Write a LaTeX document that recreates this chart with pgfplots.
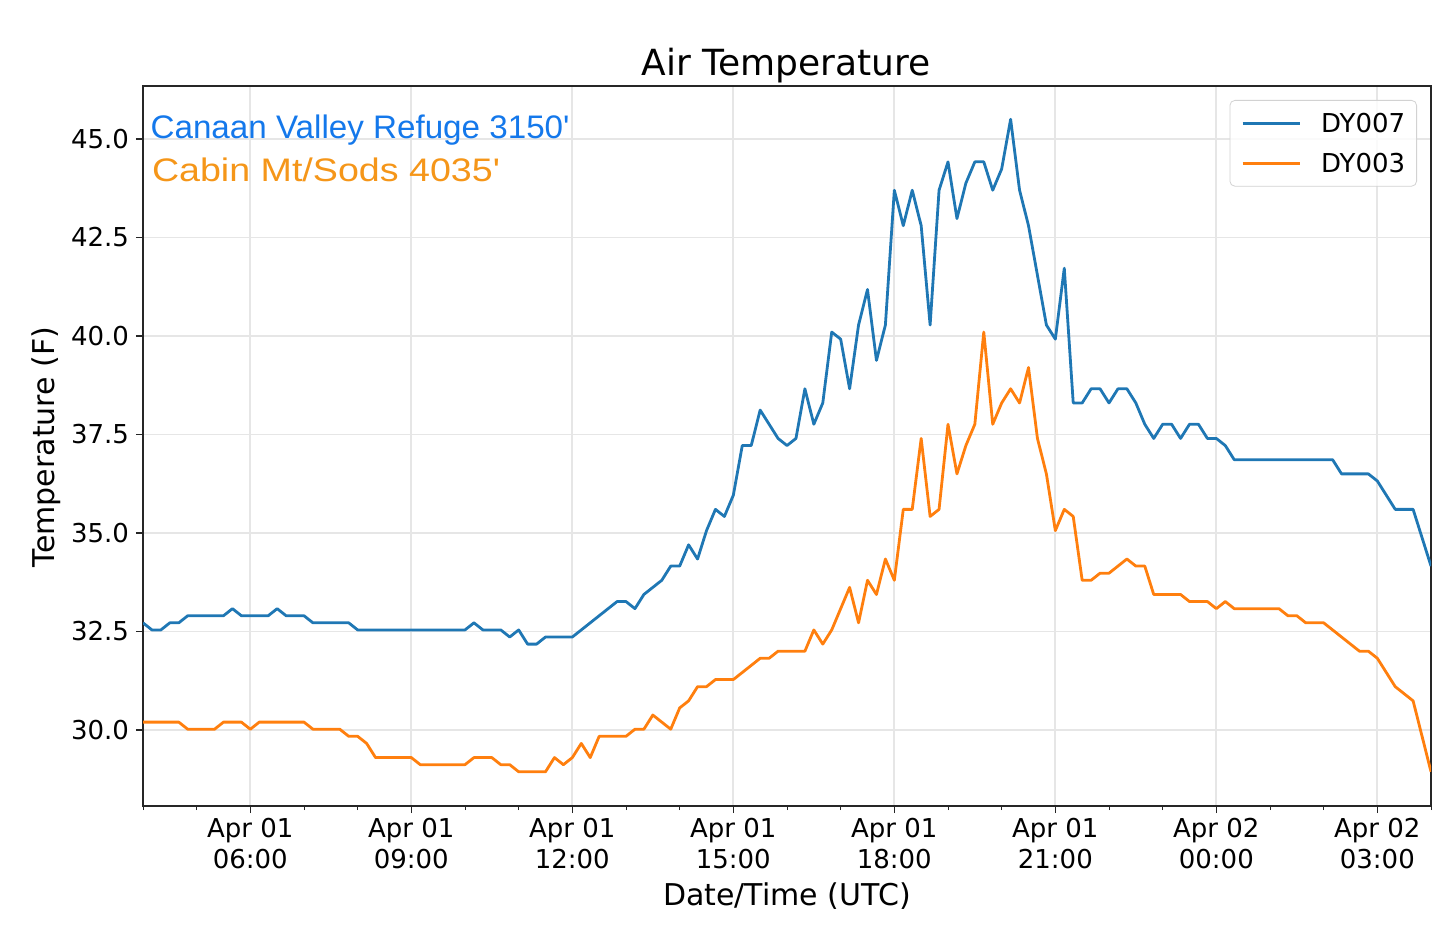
\documentclass[border=0pt]{standalone}
\usepackage{pgfplots}
\pgfplotsset{compat=1.18}
\usepackage{pgfplotstable}
\usepackage{fontspec}
\setmainfont{DejaVu Sans}
\newfontfamily\annfont{Liberation Sans}
\definecolor{tabblue}{HTML}{1F77B4}
\definecolor{taborange}{HTML}{FF7F0E}
\definecolor{annblue}{RGB}{20,120,235}
\definecolor{annorange}{RGB}{245,150,25}
\definecolor{gridgray}{RGB}{230,230,230}
\definecolor{legframe}{RGB}{210,210,210}

% x = number of 10-minute steps after Apr 01 04:00 UTC
\pgfplotstableread{
i T
0 32.72
1 32.54
2 32.54
3 32.72
4 32.72
5 32.90
9 32.90
10 33.08
11 32.90
14 32.90
15 33.08
16 32.90
18 32.90
19 32.72
23 32.72
24 32.54
36 32.54
37 32.72
38 32.54
40 32.54
41 32.36
42 32.54
43 32.18
44 32.18
45 32.36
48 32.36
49 32.54
50 32.72
51 32.90
52 33.08
53 33.26
54 33.26
55 33.08
56 33.44
57 33.62
58 33.80
59 34.16
60 34.16
61 34.70
62 34.34
63 35.06
64 35.60
65 35.42
66 35.96
67 37.22
68 37.22
69 38.12
70 37.76
71 37.40
72 37.22
73 37.40
74 38.66
75 37.76
76 38.30
77 40.10
78 39.92
79 38.66
80 40.28
81 41.18
82 39.38
83 40.28
84 43.70
85 42.80
86 43.70
87 42.80
88 40.28
89 43.70
90 44.42
91 42.98
92 43.88
93 44.42
94 44.42
95 43.70
96 44.24
97 45.50
98 43.70
99 42.80
100 41.54
101 40.28
102 39.92
103 41.72
104 38.30
105 38.30
106 38.66
107 38.66
108 38.30
109 38.66
110 38.66
111 38.30
112 37.76
113 37.40
114 37.76
115 37.76
116 37.40
117 37.76
118 37.76
119 37.40
120 37.40
121 37.22
122 36.86
133 36.86
134 36.50
137 36.50
138 36.32
139 35.96
140 35.60
142 35.60
143 34.88
144 34.16
}\dyseven

\pgfplotstableread{
i T
0 30.20
4 30.20
5 30.02
8 30.02
9 30.20
11 30.20
12 30.02
13 30.20
18 30.20
19 30.02
22 30.02
23 29.84
24 29.84
25 29.66
26 29.30
30 29.30
31 29.12
36 29.12
37 29.30
39 29.30
40 29.12
41 29.12
42 28.94
45 28.94
46 29.30
47 29.12
48 29.30
49 29.66
50 29.30
51 29.84
54 29.84
55 30.02
56 30.02
57 30.38
58 30.20
59 30.02
60 30.56
61 30.74
62 31.10
63 31.10
64 31.28
66 31.28
67 31.46
68 31.64
69 31.82
70 31.82
71 32.00
74 32.00
75 32.54
76 32.18
77 32.54
78 33.08
79 33.62
80 32.72
81 33.80
82 33.44
83 34.34
84 33.80
85 35.60
86 35.60
87 37.40
88 35.42
89 35.60
90 37.76
91 36.50
92 37.22
93 37.76
94 40.10
95 37.76
96 38.30
97 38.66
98 38.30
99 39.20
100 37.40
101 36.50
102 35.06
103 35.60
104 35.42
105 33.80
106 33.80
107 33.98
108 33.98
109 34.16
110 34.34
111 34.16
112 34.16
113 33.44
116 33.44
117 33.26
119 33.26
120 33.08
121 33.26
122 33.08
127 33.08
128 32.90
129 32.90
130 32.72
132 32.72
133 32.54
134 32.36
135 32.18
136 32.00
137 32.00
138 31.82
139 31.46
140 31.10
141 30.92
142 30.74
143 29.84
144 28.94
}\dythree

\begin{document}
\begin{tikzpicture}
\useasboundingbox (-71.5pt,-69pt) rectangle (648pt,403pt);
\begin{axis}[
  at={(0pt,0pt)}, anchor=south west,
  scale only axis, width=644pt, height=360pt,
  xmin=0, xmax=144, ymin=28.071, ymax=46.345,
  xtick={12,30,48,66,84,102,120,138},
  xticklabels={{Apr 01\\06:00},{Apr 01\\09:00},{Apr 01\\12:00},{Apr 01\\15:00},{Apr 01\\18:00},{Apr 01\\21:00},{Apr 02\\00:00},{Apr 02\\03:00}},
  minor xtick={0,6,18,24,36,42,54,60,72,78,90,96,108,114,126,132,144},
  ytick={30,32.5,35,37.5,40,42.5,45},
  /pgf/number format/assume math mode=true,
  yticklabel style={/pgf/number format/fixed, /pgf/number format/fixed zerofill, /pgf/number format/precision=1,
    font=\fontsize{13}{15.5}\selectfont, inner sep=0pt, xshift=-3.3pt},
  xticklabel style={align=center, font=\fontsize{13}{15.5}\selectfont, inner sep=0pt, yshift=-2.3pt},
  tick pos=left, tick align=outside,
  major tick length=3.5pt, minor tick length=2pt,
  tick style={black!85, line width=0.6pt},
  minor tick style={black!85, line width=0.5pt},
  axis line style={black!85, line width=0.8pt},
  grid=major,
  major grid style={gridgray, line width=0.9pt},
  legend style={at={(1,1)}, anchor=north east, xshift=-7pt, yshift=-7pt,
    draw=legframe, rounded corners=2.5pt, fill=white, fill opacity=0.8, text opacity=1,
    font=\fontsize{13}{15.5}\selectfont, inner xsep=5.7pt, inner ysep=6.7pt, row sep=10.5pt,
    nodes={inner sep=0pt, text height=9.5pt, text depth=0pt},
    /tikz/every odd column/.append style={column sep=10pt}},
  legend cell align=left,
  legend image code/.code={\draw[#1, line width=1.4pt] (0pt,0pt) -- (28.5pt,0pt);},
]
\addplot[tabblue, line width=1.4pt, line join=round] table[x=i, y=T] {\dyseven};
\addlegendentry{DY007}
\addplot[taborange, line width=1.4pt, line join=round] table[x=i, y=T] {\dythree};
\addlegendentry{DY003}
\end{axis}
\node[font=\fontsize{18}{21}\selectfont, anchor=base, inner sep=0pt] at (321.5pt,365pt) {Air Temperature};
\node[font=\fontsize{15}{18}\selectfont, anchor=base, inner sep=0pt] at (322pt,-49.5pt) {Date/Time (UTC)};
\node[font=\fontsize{15}{18}\selectfont, anchor=base, rotate=90, inner sep=0pt] at (-44pt,179.5pt) {Temperature (F)};
\node[font=\annfont\fontsize{16.3}{19}\selectfont, text=annblue, anchor=base west, inner sep=0pt] at (3.6pt,333.85pt) {\scalebox{1.018}[1]{Canaan Valley Refuge 3150'}};
\node[font=\annfont\fontsize{16.3}{19}\selectfont, text=annorange, anchor=base west, inner sep=0pt] at (4.3pt,312.15pt) {\scalebox{1.154}[1]{Cabin Mt/Sods 4035'}};
\end{tikzpicture}
\end{document}
